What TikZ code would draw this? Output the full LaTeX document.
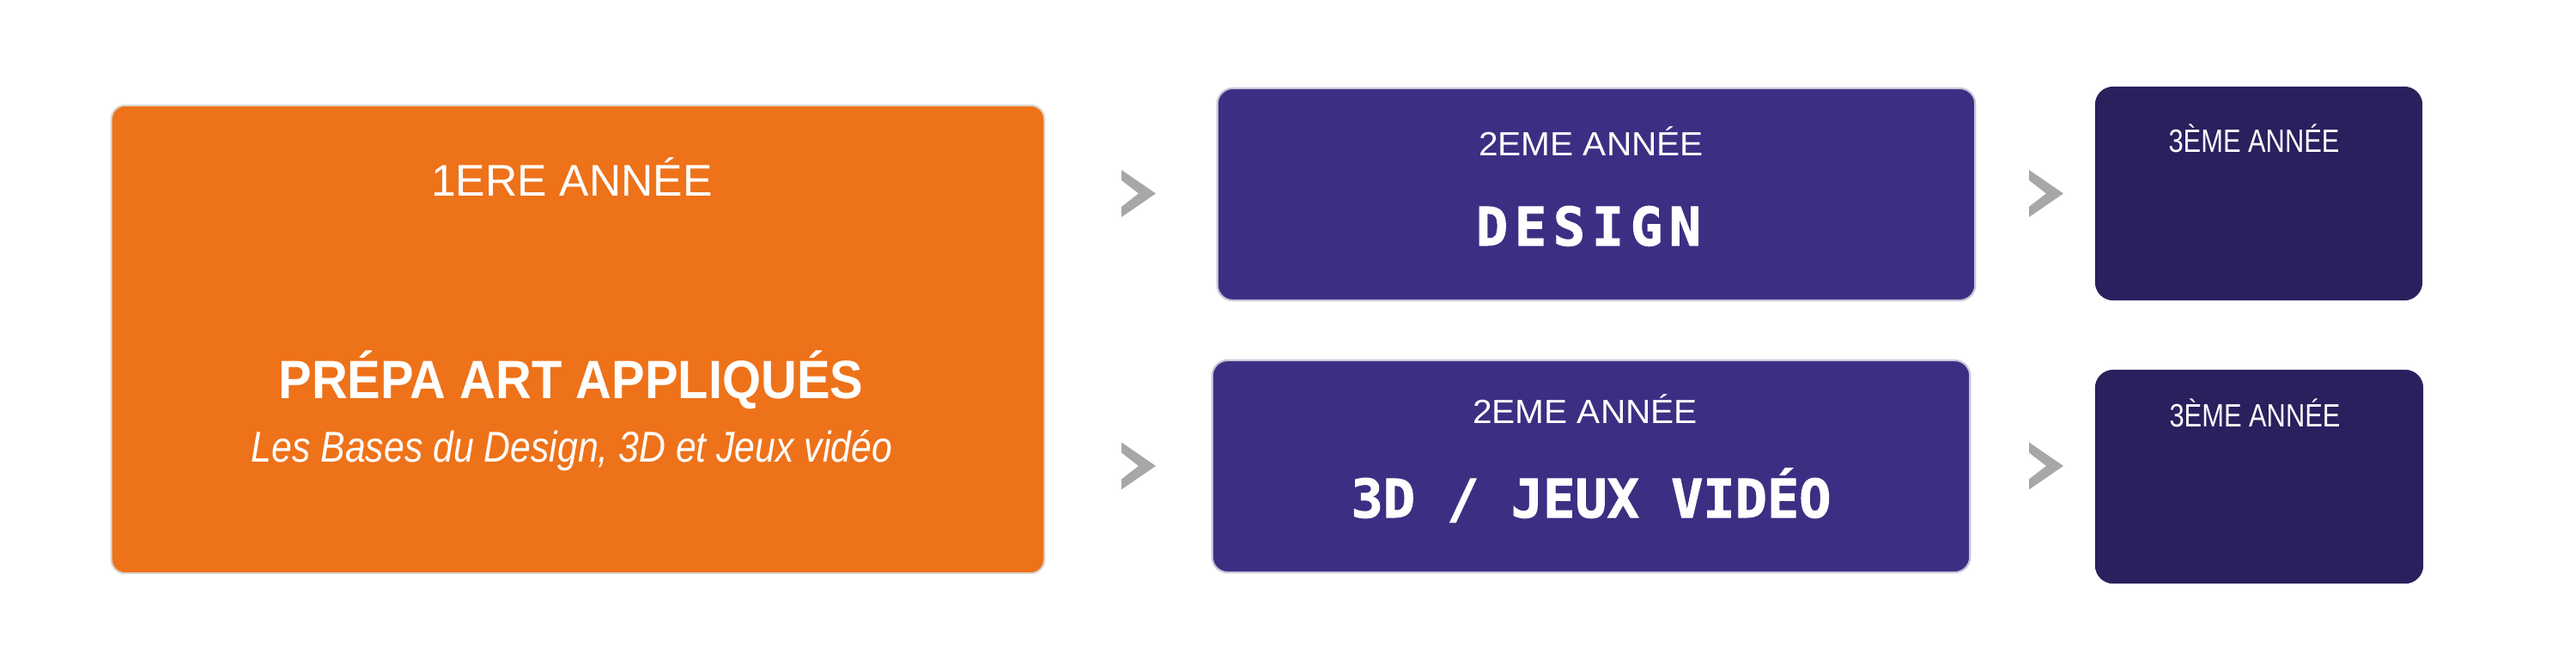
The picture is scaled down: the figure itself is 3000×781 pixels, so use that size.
\documentclass[tikz,border=0pt]{standalone}
\usepackage{fontspec}
\setmainfont{Liberation Sans}
\newfontfamily\narrowfont{Liberation Sans}[FakeStretch=0.82]
\newfontfamily\narrowitfont{Liberation Sans}[FakeStretch=0.85]
\newfontfamily\condboldfont{Liberation Sans}[FakeStretch=0.92]
\newfontfamily\widefont{Liberation Sans}[FakeStretch=1.04]
\newfontfamily\dvmono{DejaVu Sans Mono Bold}[FakeBold=1.6]
\definecolor{orangeC}{HTML}{EE7219}
\definecolor{orangeB}{HTML}{DAD4CE}
\definecolor{purpleC}{HTML}{3C2F83}
\definecolor{purpleB}{HTML}{C6C3D8}
\definecolor{darkC}{HTML}{2B1F5E}
\definecolor{chevC}{HTML}{A7A7A7}
\tikzset{
  box/.style={rectangle, inner sep=0pt, line width=0.6pt},
  orangebox/.style={box, fill=orangeC, draw=orangeB, rounded corners=0.16cm},
  purplebox/.style={box, fill=purpleC, draw=purpleB, rounded corners=0.18cm},
  darkbox/.style={box, fill=darkC, draw=darkC, rounded corners=0.2cm},
  lbl/.style={text=white, anchor=base, inner sep=0pt},
  chev/.pic={\fill[chevC] (0,-27.5) -- (40,0) -- (0,27.5) -- (0,15.5) -- (20,0) -- (0,-15.5) -- cycle;}
}
\begin{document}
\begin{tikzpicture}[x=0.01cm,y=-0.01cm]
\useasboundingbox[fill=white] (0,0) rectangle (3000,781);
% boxes
\node[orangebox, minimum width=10.86cm, minimum height=5.45cm] (y1) at (673,395.5) {};
\node[purplebox, minimum width=8.82cm, minimum height=2.47cm] (y2a) at (1859,226.5) {};
\node[purplebox, minimum width=8.82cm, minimum height=2.47cm] (y2b) at (1853,543.5) {};
\node[darkbox, minimum width=3.79cm, minimum height=2.47cm] (y3a) at (2630.5,225.5) {};
\node[darkbox, minimum width=3.80cm, minimum height=2.47cm] (y3b) at (2631,555.5) {};
% chevrons
\coordinate (c1) at (1306,225.5);
\coordinate (c2) at (1306,543);
\coordinate (c3) at (2363,225.5);
\coordinate (c4) at (2363,543);
\pic at (c1) {chev};
\pic at (c2) {chev};
\pic at (c3) {chev};
\pic at (c4) {chev};
% texts
\node[lbl, font=\fontsize{14.7}{17}\selectfont] (t1) at (666,228) {1ERE ANNÉE};
\node[lbl, font=\condboldfont\bfseries\fontsize{17.9}{21}\selectfont] (t2) at (665,464) {PRÉPA ART APPLIQUÉS};
\node[lbl, font=\narrowitfont\itshape\fontsize{14.3}{17}\selectfont] (t3) at (666,538) {Les Bases du Design, 3D et Jeux vidéo};
\node[lbl, font=\widefont\fontsize{11.1}{13}\selectfont] (t4) at (1853,181) {2EME ANNÉE};
\node[lbl, font=\dvmono\fontsize{17.6}{20}\selectfont] (t5) at (1850,286) {D\kern2.2pt E\kern2.2pt S\kern2.2pt I\kern2.2pt G\kern2.2pt N};
\node[lbl, font=\widefont\fontsize{11.1}{13}\selectfont] (t6) at (1846,493) {2EME ANNÉE};
\node[lbl, font=\dvmono\fontsize{17.6}{20}\selectfont] (t7) at (1853,603) {3D / JEUX VIDÉO};
\node[lbl, font=\narrowfont\fontsize{10.7}{13}\selectfont] (t8) at (2625,177) {3ÈME ANNÉE};
\node[lbl, font=\narrowfont\fontsize{10.7}{13}\selectfont] (t9) at (2626,497) {3ÈME ANNÉE};
\end{tikzpicture}
\end{document}
